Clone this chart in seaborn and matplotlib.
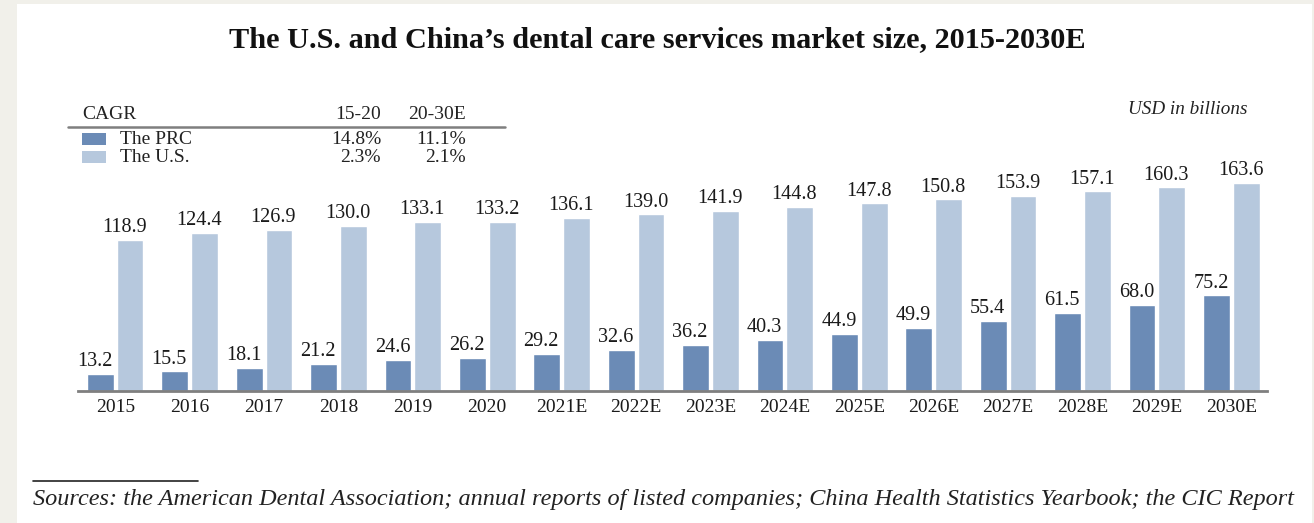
import matplotlib
matplotlib.use("Agg")
import matplotlib.pyplot as plt
import matplotlib.patches as mpatches
import matplotlib.lines as mlines
import seaborn as sns
import pandas as pd

years = ["2015", "2016", "2017", "2018", "2019", "2020", "2021E", "2022E",
         "2023E", "2024E", "2025E", "2026E", "2027E", "2028E", "2029E", "2030E"]
prc = [13.2, 15.5, 18.1, 21.2, 24.6, 26.2, 29.2, 32.6, 36.2, 40.3, 44.9, 49.9,
       55.4, 61.5, 68.0, 75.2]
us = [118.9, 124.4, 126.9, 130.0, 133.1, 133.2, 136.1, 139.0, 141.9, 144.8,
      147.8, 150.8, 153.9, 157.1, 160.3, 163.6]
series = ["The PRC", "The U.S."]
cagr_cols = ["15-20", "20-30E"]
cagr_prc = ["14.8%", "11.1%"]
cagr_us = ["2.3%", "2.1%"]

col_prc = "#6b8bb6"
col_us = "#b6c8dd"

df = pd.DataFrame({
    "year": years * 2,
    "value": prc + us,
    "series": [series[0]] * len(years) + [series[1]] * len(years),
})

sns.set_theme(style="white")
plt.rcParams["font.family"] = ["Liberation Serif", "DejaVu Serif"]

W, H = 1314, 523
fig = plt.figure(figsize=(W / 100, H / 100), dpi=100)
fig.patch.set_facecolor("#f1f0ea")


def fx(x):
    return x / W


def fy(y):
    return 1 - y / H


fig.patches.append(mpatches.Rectangle((fx(17), 0), fx(1312) - fx(17), fy(4),
                                      transform=fig.transFigure, facecolor="white",
                                      edgecolor="none", zorder=-5))

ax_l, ax_r = 78, 1267
ax_b, ax_t = 391, 137
ax = fig.add_axes([fx(ax_l), fy(ax_b), fx(ax_r) - fx(ax_l), (ax_b - ax_t) / H])
ax.set_facecolor("none")
ax.set_zorder(2)

sns.barplot(data=df, x="year", y="value", hue="series", order=years,
            hue_order=series, palette=[col_prc, col_us], width=0.8, gap=0.1,
            saturation=1, ax=ax, legend=False)

ax.set_ylim(0, 200)
ax.set_xlim(-0.5, 15.48)
ax.set_xlabel("")
ax.set_ylabel("")
ax.set_yticks([])
for s in ["top", "right", "left"]:
    ax.spines[s].set_visible(False)
ax.spines["bottom"].set_color("#7f7f7f")
ax.spines["bottom"].set_linewidth(2)
ax.tick_params(axis="x", length=0, pad=6, labelsize=14, colors="#1a1a1a")

for cont in ax.containers:
    for bar in cont:
        h = bar.get_height()
        ax.annotate(f"{h:.1f}", (bar.get_x() + bar.get_width() / 2, h),
                    xytext=(-4, 2), textcoords="offset points",
                    ha="center", va="bottom", fontsize=14.5, color="#1a1a1a")

# Title
fig.text(0.5, fy(40), "The U.S. and China\u2019s dental care services market size, 2015-2030E",
         ha="center", va="center", fontsize=21.8, fontweight="bold", color="#111111")

# Unit
fig.text(fx(1248), fy(110), "USD in billions", ha="right", va="center",
         fontsize=13.8, style="italic", color="#222222")

# CAGR table
tc = "#222222"
fs = 14
fig.text(fx(82), fy(114), "CAGR", ha="left", va="center", fontsize=fs, color=tc)
fig.text(fx(381), fy(114), cagr_cols[0], ha="right", va="center", fontsize=fs, color=tc)
fig.text(fx(466), fy(114), cagr_cols[1], ha="right", va="center", fontsize=fs, color=tc)
fig.lines.append(mlines.Line2D([fx(68), fx(505)], [fy(127), fy(127)],
                               transform=fig.transFigure, color="#7f7f7f", lw=1.8))
rows = [(series[0], col_prc, cagr_prc, 139), (series[1], col_us, cagr_us, 157)]
for name, col, vals, yy in rows:
    fig.patches.append(mpatches.Rectangle((fx(82), fy(yy + 6)), fx(24), 12 / H,
                                          transform=fig.transFigure, facecolor=col,
                                          edgecolor="none"))
    fig.text(fx(120), fy(yy), name, ha="left", va="center", fontsize=fs, color=tc)
    fig.text(fx(381), fy(yy), vals[0], ha="right", va="center", fontsize=fs, color=tc)
    fig.text(fx(466), fy(yy), vals[1], ha="right", va="center", fontsize=fs, color=tc)

# Footer
fig.lines.append(mlines.Line2D([fx(33), fx(198)], [fy(481), fy(481)],
                               transform=fig.transFigure, color="#222222", lw=1.2))
fig.text(fx(33), fy(499), "Sources: the American Dental Association; annual reports of listed "
         "companies; China Health Statistics Yearbook; the CIC Report",
         ha="left", va="center", fontsize=17.5, style="italic", color="#222222")

fig.savefig("out.png", dpi=100)
